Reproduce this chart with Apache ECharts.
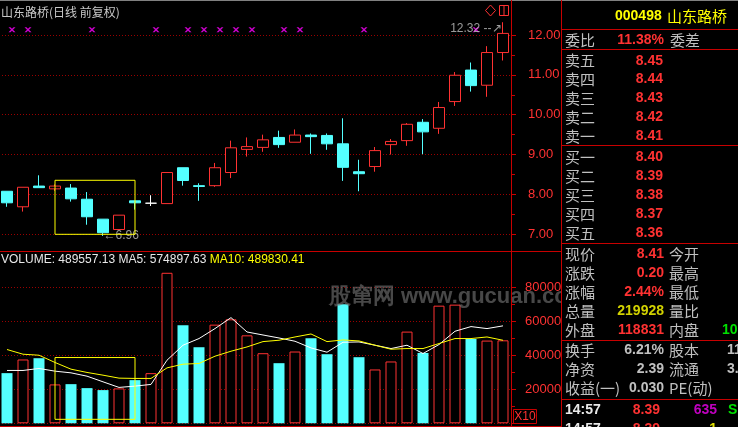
<!DOCTYPE html>
<html>
<head>
<meta charset="utf-8">
<script src="https://cdn.jsdelivr.net/npm/echarts@6/dist/echarts.min.js"></script>
</head>
<body style="margin:0;background:#000;">
<div id="container" style="width:738px;height:427px;"></div>
<script>
// daily bars: [open, close, low, high]
var candles = [
	[8.08, 7.79, 7.69, 8.08], [7.69, 8.18, 7.57, 8.18], [8.21, 8.17, 8.17, 8.48], [8.14, 8.21, 8.09, 8.25],
	[8.16, 7.89, 7.82, 8.26], [7.88, 7.44, 7.24, 8.06], [7.38, 7.04, 6.96, 7.38], [7.12, 7.48, 7.12, 7.48],
	[7.84, 7.79, 7.62, 7.84], [7.78, 7.78, 7.71, 7.98], [7.77, 8.55, 7.77, 8.55], [8.67, 8.35, 8.22, 8.67],
	[8.22, 8.20, 7.84, 8.28], [8.22, 8.67, 8.19, 8.79], [8.55, 9.17, 8.41, 9.35], [9.13, 9.20, 8.95, 9.43],
	[9.18, 9.37, 9.07, 9.50], [9.43, 9.25, 9.17, 9.60], [9.31, 9.49, 9.31, 9.63], [9.49, 9.45, 9.02, 9.53],
	[9.48, 9.27, 9.12, 9.53], [9.27, 8.68, 8.34, 9.91], [8.57, 8.52, 8.08, 8.87], [8.70, 9.10, 8.57, 9.19],
	[9.25, 9.33, 9.00, 9.39], [9.35, 9.76, 9.22, 9.79], [9.81, 9.57, 9.01, 9.89], [9.66, 10.18, 9.52, 10.32],
	[10.33, 10.99, 10.22, 11.07], [11.12, 10.73, 10.58, 11.31], [10.74, 11.56, 10.45, 11.72], [11.56, 12.04, 11.36, 12.32]
];
var volumes = [
	295900, 376500, 384000, 229400, 231000, 207600, 195900, 205900,
	254700, 295900, 888000, 578000, 448800, 582000, 613500, 519000,
	413500, 354700, 423500, 501700, 407600, 701700, 390000, 317600,
	364700, 541000, 415000, 694000, 700000, 497600, 488000, 489557.13
];
var volMa5 = [
	311700, 311700, 323500, 307600, 297600, 278000, 244700, 211700,
	219400, 229400, 372300, 460600, 500000, 558800, 623500, 538800,
	521000, 503500, 484000, 444700, 419400, 478000, 480000, 460600,
	441000, 460600, 411700, 464700, 543000, 570600, 558800, 574897.63
];
var volMa10 = [
	435300, 407600, 401700, 358800, 319400, 300000, 284000, 266500,
	264700, 264700, 327000, 348800, 352900, 395900, 425300, 450600,
	482000, 490000, 509400, 527000, 482000, 491800, 485900, 460600,
	437000, 441000, 441000, 470600, 500000, 500000, 509400, 489830.41
];
// days carrying an info-mine flag
var mineDays = [0, 1, 5, 9, 11, 12, 13, 14, 15, 17, 18, 22, 29];

// quote panel
var askLabels = ['卖五', '卖四', '卖三', '卖二', '卖一'];
var askPrices = ['8.45', '8.44', '8.43', '8.42', '8.41'];
var bidLabels = ['买一', '买二', '买三', '买四', '买五'];
var bidPrices = ['8.40', '8.39', '8.38', '8.37', '8.36'];
var quoteLabels = ['现价', '涨跌', '涨幅', '总量', '外盘'];
var quoteValues = ['8.41', '0.20', '2.44%', '219928', '118831'];
var quoteLabels2 = ['今开', '最高', '最低', '量比', '内盘'];
var shareLabels = ['换手', '净资', '收益(一)'];
var shareValues = ['6.21%', '2.39', '0.030'];
var shareLabels2 = ['股本', '流通', 'PE(动)'];
var shareValues2 = ['11', '3.', ''];

var RED = '#ff3232', CYAN = '#54ffff', DOTS = '#9a0000', FRAME = '#c80000', GRAY = '#c0c0c0';
var NUM = '"Liberation Sans", Arial, sans-serif';
var CJK = '"Noto Sans CJK SC", sans-serif';

var dom = document.getElementById('container');
var myChart = echarts.init(dom);

var days = candles.map(function (c, i) { return i; });

var candleData = candles.map(function (c) {
	if (c[0] === c[1]) {
		return { value: c, itemStyle: { color: '#fff', color0: '#fff', borderColor: '#fff', borderColor0: '#fff', borderColorDoji: '#fff' } };
	}
	return c;
});
var volData = volumes.map(function (v, i) {
	var up = candles[i][1] >= candles[i][0];
	return {
		value: v,
		itemStyle: up ? { color: '#000', borderColor: RED, borderWidth: 1 } : { color: CYAN, borderWidth: 0 }
	};
});

// highest high / lowest low in view
var hiIdx = 0, loIdx = 0;
candles.forEach(function (c, i) {
	if (c[3] > candles[hiIdx][3]) hiIdx = i;
	if (c[2] < candles[loIdx][2]) loIdx = i;
});

function txt(x, y, s, fill, font, align) {
	return {
		type: 'text', x: x, y: y, z: 101,
		style: { text: s, fill: fill, font: font, textAlign: align || 'left', textVerticalAlign: 'middle', align: align || 'left', verticalAlign: 'middle' }
	};
}
function seg(x1, y1, x2, y2, color, z) {
	return { type: 'line', z: z || 50, shape: { x1: x1, y1: y1, x2: x2, y2: y2 }, style: { stroke: color, lineWidth: 1 } };
}

var g = [];
// watermark
g.push({
	type: 'text', x: 329, y: 297, z: 90,
	style: { text: '股窜网 www.gucuan.com', fill: 'rgba(120,120,120,0.6)', font: 'bold 22px ' + NUM, textVerticalAlign: 'middle', verticalAlign: 'middle' }
});
// panel background
g.push({ type: 'rect', z: 95, shape: { x: 562, y: 0, width: 176, height: 427 }, style: { fill: '#000' } });
// frame
g.push(seg(0, 0.5, 738, 0.5, '#808080', 96));
g.push(seg(511.5, 0, 511.5, 427, FRAME, 96));
g.push(seg(561.5, 0, 561.5, 427, FRAME, 96));
g.push(seg(0, 251.5, 561, 251.5, FRAME, 96));
g.push(seg(0, 426.5, 561, 426.5, FRAME, 96));
[29.5, 49.5, 145.5, 243.5, 340.5, 399.5].forEach(function (y) {
	g.push(seg(562, y, 738, y, FRAME, 96));
});
// title and icons
g.push(txt(1, 12, '山东路桥(日线 前复权)', '#c8c8c8', '12px ' + CJK));
g.push({ type: 'polygon', z: 50, shape: { points: [[490.5, 5], [495.5, 10.5], [490.5, 16], [485.5, 10.5]] }, style: { fill: 'none', stroke: RED, lineWidth: 1 } });
g.push({ type: 'rect', z: 50, shape: { x: 499.5, y: 5.5, width: 9, height: 10 }, style: { fill: 'none', stroke: RED, lineWidth: 1 } });
g.push(seg(504, 5.5, 504, 15.5, RED, 50));
// volume header
g.push({
	type: 'text', x: 1, y: 260, z: 101,
	style: {
		text: '{w|VOLUME: ' + volumes[volumes.length - 1].toFixed(2) + ' MA5: ' + volMa5[volMa5.length - 1].toFixed(2) + ' }{y|MA10: ' + volMa10[volMa10.length - 1].toFixed(2) + '}',
		font: '12px ' + NUM, textVerticalAlign: 'middle', verticalAlign: 'middle',
		rich: { w: { fill: '#e8e8e8', color: '#e8e8e8', font: '12px ' + NUM }, y: { fill: '#ffff00', color: '#ffff00', font: '12px ' + NUM } }
	}
});
// X10 box
g.push({ type: 'rect', z: 96, shape: { x: 513.5, y: 409.5, width: 23, height: 14 }, style: { fill: 'none', stroke: FRAME, lineWidth: 1 } });
g.push(txt(525, 417, 'X10', RED, '12px ' + NUM, 'center'));

// quote panel
var bold = 'bold 14px ' + NUM, cjk15 = '15px ' + CJK;
g.push(txt(615, 16, '000498', '#ffff00', bold));
g.push(txt(667, 16, '山东路桥', '#ffff00', cjk15));
g.push(txt(565, 40, '委比', GRAY, cjk15));
g.push(txt(664, 40, '11.38%', RED, bold, 'right'));
g.push(txt(670, 40, '委差', GRAY, cjk15));
askLabels.forEach(function (s, i) {
	g.push(txt(565, 60.7 + i * 18.8, s, GRAY, cjk15));
	g.push(txt(663, 60.7 + i * 18.8, askPrices[i], RED, bold, 'right'));
});
bidLabels.forEach(function (s, i) {
	g.push(txt(565, 157 + i * 19, s, GRAY, cjk15));
	g.push(txt(663, 157 + i * 19, bidPrices[i], RED, bold, 'right'));
});
var quoteColors = [RED, RED, RED, '#d2d200', RED];
quoteLabels.forEach(function (s, i) {
	g.push(txt(565, 254 + i * 19, s, GRAY, cjk15));
	g.push(txt(664, 254 + i * 19, quoteValues[i], quoteColors[i], bold, 'right'));
	g.push(txt(669, 254 + i * 19, quoteLabels2[i], GRAY, cjk15));
});
g.push(txt(722, 330, '101', '#00e000', bold));
shareLabels.forEach(function (s, i) {
	g.push(txt(565, 350.5 + i * 19, s, GRAY, cjk15));
	g.push(txt(664, 350.5 + i * 19, shareValues[i], GRAY, bold, 'right'));
	g.push(txt(669, 350.5 + i * 19, shareLabels2[i], GRAY, cjk15));
	g.push(txt(727, 350.5 + i * 19, shareValues2[i], GRAY, bold));
});
g.push(txt(565, 410, '14:57', '#e8e8e8', bold));
g.push(txt(660, 410, '8.39', RED, bold, 'right'));
g.push(txt(717, 410, '635', '#c000c0', bold, 'right'));
g.push(txt(728, 410, 'S', '#00e000', bold));
g.push(txt(565, 429, '14:57', '#e8e8e8', bold));
g.push(txt(660, 429, '8.39', RED, bold, 'right'));
g.push(txt(717, 429, '1', '#e0e000', bold, 'right'));

var splitDots = { show: true, lineStyle: { color: DOTS, type: [1, 2], width: 1 } };
var boxStyle = { color: 'rgba(0,0,0,0)', borderColor: '#ffff00', borderWidth: 1 };

option = {
	animation: false,
	backgroundColor: '#000',
	grid: [
		{ left: -1, right: 227, top: 35, bottom: 192.7, containLabel: false, outerBoundsMode: 'none' },
		{ left: -1, right: 227, top: 287.7, bottom: 3.7, containLabel: false, outerBoundsMode: 'none' }
	],
	xAxis: [
		{ type: 'category', data: days, gridIndex: 0, boundaryGap: true, show: false },
		{ type: 'category', data: days, gridIndex: 1, boundaryGap: true, show: false }
	],
	yAxis: [
		{
			type: 'value', gridIndex: 0, position: 'right', min: 7, max: 12, interval: 1, scale: true,
			axisLine: { show: false },
			axisTick: { show: true, inside: false, length: 5, lineStyle: { color: FRAME } },
			minorTick: { show: true, splitNumber: 2, length: 4, lineStyle: { color: FRAME } },
			axisLabel: { color: RED, fontSize: 13, fontFamily: NUM, margin: 17, formatter: function (v) { return v.toFixed(2); } },
			splitLine: splitDots
		},
		{
			type: 'value', gridIndex: 1, position: 'right', min: 0, max: 800000, interval: 200000,
			axisLine: { show: false },
			axisTick: { show: true, inside: false, length: 5, lineStyle: { color: FRAME } },
			minorTick: { show: true, splitNumber: 2, length: 4, lineStyle: { color: FRAME } },
			axisLabel: { color: RED, fontSize: 13, fontFamily: NUM, margin: 14, showMinLabel: false, formatter: function (v) { return v === 0 ? '' : String(v / 10); } },
			splitLine: splitDots
		}
	],
	graphic: g,
	series: [
		{
			type: 'candlestick', xAxisIndex: 0, yAxisIndex: 0, data: candleData, barWidth: 11, clip: false,
			itemStyle: { color: '#000', color0: CYAN, borderColor: RED, borderColor0: CYAN, borderWidth: 1 },
			markArea: {
				silent: true, z: 6,
				itemStyle: boxStyle,
				label: { show: false },
				data: [[{ coord: [3, 8.355] }, { coord: [8, 6.70] }]]
			}
		},
		{
			type: 'scatter', xAxisIndex: 0, yAxisIndex: 0, clip: false, silent: true,
			symbol: 'path://M0,0L2,0L3.5,1.5L5,0L7,0L4.5,2.5L7,5L5,5L3.5,3.5L2,5L0,5L2.5,2.5Z',
			symbolSize: [7, 5], symbolOffset: [5, 0],
			itemStyle: { color: '#ff00ff' },
			data: mineDays.map(function (d) { return [d, 12.13]; })
		},
		{
			// high / low annotations
			type: 'scatter', xAxisIndex: 0, yAxisIndex: 0, clip: false, silent: true, z: 5,
			symbol: 'circle', symbolSize: 1,
			itemStyle: { color: 'rgba(0,0,0,0)' },
			label: { show: true, color: GRAY, fontSize: 12, fontFamily: NUM },
			labelLayout: { hideOverlap: false },
			data: [
				{ value: [hiIdx, candles[hiIdx][3]], label: { position: 'left', distance: 1, verticalAlign: 'top', formatter: function (p) { return p.value[1].toFixed(2) + ' --\u2197'; } } },
				{ value: [loIdx, candles[loIdx][2]], label: { position: 'right', distance: 0, offset: [-1, 2], formatter: function (p) { return '\u2190' + p.value[1].toFixed(2); } } }
			]
		},
		{
			type: 'bar', xAxisIndex: 1, yAxisIndex: 1, data: volData, barWidth: 11, clip: false, z: 1
		},
		{
			type: 'line', xAxisIndex: 1, yAxisIndex: 1, data: volMa5, symbol: 'none', silent: true, z: 3,
			lineStyle: { color: '#ffffff', width: 1 },
			markArea: {
				silent: true, z: 6,
				itemStyle: boxStyle,
				label: { show: false },
				data: [[{ coord: [3, 388000] }, { coord: [8, 23500] }]]
			}
		},
		{
			type: 'line', xAxisIndex: 1, yAxisIndex: 1, data: volMa10, symbol: 'none', silent: true, z: 3,
			lineStyle: { color: '#ffff00', width: 1 }
		}
	]
};
myChart.setOption(option);
</script>
</body>
</html>
